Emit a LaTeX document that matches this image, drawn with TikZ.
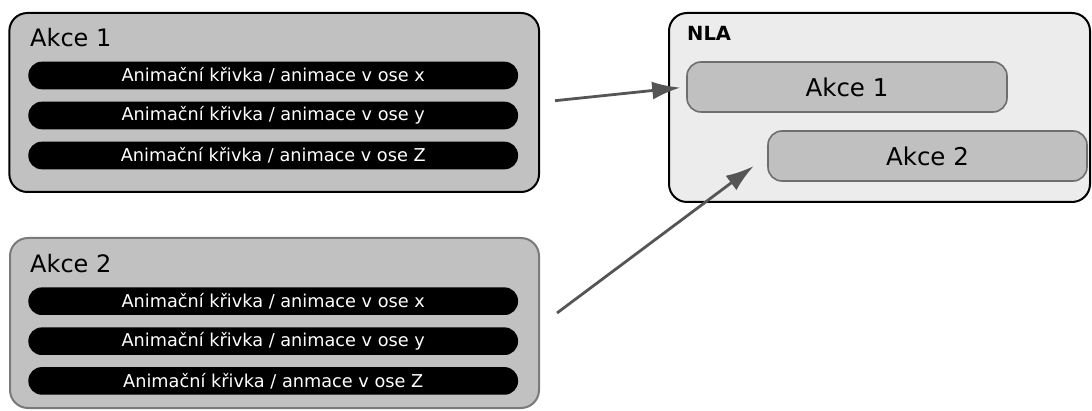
\documentclass[tikz,border=0pt]{standalone}
\usepackage{fontspec}
\setmainfont{DejaVu Sans}
\usetikzlibrary{arrows.meta}
\definecolor{boxgray}{HTML}{C1C1C1}
\definecolor{nlafill}{HTML}{ECECEC}
\definecolor{innergray}{HTML}{C0C0C0}
\definecolor{innerborder}{HTML}{6E6E6E}
\definecolor{lowborder}{HTML}{7A7A7A}
\definecolor{arrowgray}{HTML}{555555}
\tikzset{
  outerbox/.style={draw=black, line width=2pt, fill=boxgray, rounded corners=18pt, inner sep=0pt},
  curvebar/.style={fill=black, rounded corners=13.5pt, minimum width=489.7pt, minimum height=27.6pt, inner sep=0pt,
     text=white, font=\fontsize{17.7}{20}\selectfont},
  titletext/.style={inner sep=0pt, anchor=base west, font=\fontsize{24}{28}\selectfont},
  nlabox/.style={draw=black, line width=2pt, fill=nlafill, rounded corners=18pt, inner sep=0pt},
  innerbox/.style={draw=innerborder, line width=1.6pt, fill=innergray, rounded corners=14pt, inner sep=0pt,
     minimum height=50pt, font=\fontsize{24.5}{28}\selectfont},
  flowarrow/.style={draw=arrowgray, line width=2.8pt, -{Latex[length=28pt,width=18pt]}}
}
\begin{document}
\begin{tikzpicture}[x=1pt,y=-1pt]
\useasboundingbox (0,0) rectangle (1092,411);
% left boxes
\node[outerbox, minimum width=529.7pt, minimum height=179pt] (o1) at (274.2,102.5) {};
\node[outerbox, draw=lowborder, minimum width=529pt, minimum height=170pt] (o2) at (274.5,323) {};
\node[titletext] (t1) at (30,46.7) {Akce 1};
\node[titletext] (t2) at (30,272.7) {Akce 2};
\node[curvebar] (b11) at (273.2,75.5) {Animační křivka / animace v ose x};
\node[curvebar] (b12) at (273.2,115.5) {Animační křivka / animace v ose y};
\node[curvebar] (b13) at (273.2,155.5) {Animační křivka / animace v ose Z};
\node[curvebar] (b21) at (273.2,301.2) {Animační křivka / animace v ose x};
\node[curvebar] (b22) at (273.2,341.2) {Animační křivka / animace v ose y};
\node[curvebar] (b23) at (273.2,380.9) {Animační křivka / anmace v ose Z};
% NLA
\node[nlabox, minimum width=421pt, minimum height=189pt] (nla) at (879.5,107.5) {};
\node[inner sep=0pt, anchor=base west, font=\fontsize{19.5}{22}\selectfont\bfseries] (nlat) at (687,41) {NLA};
\node[innerbox, minimum width=320pt] (in1) at (847,87) {Akce 1};
\node[innerbox, minimum width=319pt] (in2) at (927.5,156) {Akce 2};
% arrows
\coordinate (a1s) at (555,100.7);
\coordinate (a2s) at (557,313);
\draw[flowarrow, shorten >=6pt] (a1s) -- (in1.west);
\draw[flowarrow, shorten >=17pt] (a2s) -- (in2.west);
\end{tikzpicture}
\end{document}
